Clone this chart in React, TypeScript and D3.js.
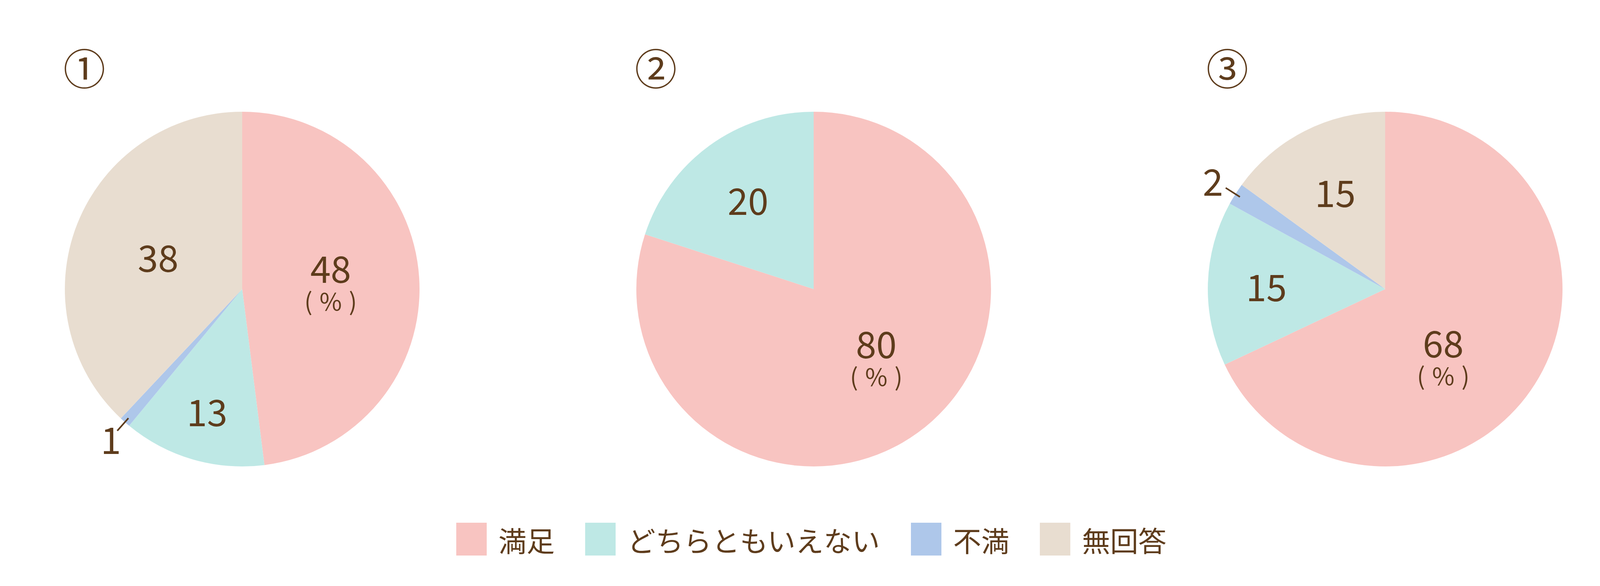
import React, {useEffect, useRef} from 'react';
import * as d3 from 'd3';

// categories and colours
const categories = ['満足', 'どちらともいえない', '不満', '無回答'];
const colors = ['#F8C4C1', '#BEE8E5', '#AEC7EA', '#E8DDD0'];

// one series per pie (%)
const titles = ['①', '②', '③'];
const pie1 = [48, 13, 1, 38];
const pie2 = [80, 20, 0, 0];
const pie3 = [68, 15, 2, 15];

// label placement: radius as fraction of pie radius, optional angle (in % of circle)
const labelRadius1 = [0.5, 0.71, 1.12, 0.51];
const labelRadius2 = [0.53, 0.63, 0, 0];
const labelRadius3 = [0.51, 0.67, 1.15, 0.62];
const labelAngle1: (number | null)[] = [null, null, null, null];
const labelAngle2: (number | null)[] = [38.4, null, null, null];
const labelAngle3: (number | null)[] = [38.9, null, null, null];

const W = 4167;
const H = 1500;
const FONT = '"Noto Sans CJK JP", "Noto Sans", sans-serif';
const TEXT = '#5E3C1C';

const App: React.FC = () => {
  const svgRef = useRef<SVGSVGElement>(null);

  useEffect(() => {
    if (!svgRef.current) return;
    const svg = d3.select(svgRef.current);
    svg.selectAll('*').remove();

    const series = [pie1, pie2, pie3];
    const radii = [labelRadius1, labelRadius2, labelRadius3];
    const angles = [labelAngle1, labelAngle2, labelAngle3];

    const R = 454;
    const cy = 740;
    const cx = d3.scalePoint<number>().domain([0, 1, 2]).range([620, 3546]);

    const pie = d3
      .pie<number>()
      .sort(null)
      .value((d) => d);
    const arc = d3.arc<d3.PieArcDatum<number>>().innerRadius(0).outerRadius(R);
    const toAngle = d3.scaleLinear().domain([0, 100]).range([0, 2 * Math.PI]);

    const label = (
      g: d3.Selection<SVGGElement, unknown, null, undefined>,
      x: number,
      y: number,
      size: number,
      txt: string,
    ) =>
      g
        .append('text')
        .attr('x', x)
        .attr('y', y)
        .attr('text-anchor', 'middle')
        .attr('dominant-baseline', 'central')
        .style('font-family', FONT)
        .style('font-size', `${size}px`)
        .attr('fill', TEXT)
        .text(txt);

    series.forEach((values, i) => {
      const g = svg
        .append('g')
        .attr('transform', `translate(${cx(i)},${cy})`);

      const arcs = pie(values);

      g.selectAll('path')
        .data(arcs.filter((d) => d.value > 0))
        .join('path')
        .attr('d', arc)
        .attr('fill', (d) => colors[d.index]);

      // title
      label(g, -404, -570, 108, titles[i]);

      arcs.forEach((d) => {
        if (d.value <= 0) return;
        const mid = (d.startAngle + d.endAngle) / 2;
        const a = angles[i][d.index] != null ? toAngle(angles[i][d.index]!) : mid;
        const r = radii[i][d.index] * R;
        const x = r * Math.sin(a);
        const y = -r * Math.cos(a);
        const outside = radii[i][d.index] > 1;
        const main = d.index === 0;

        if (outside) {
          // leader line
          const r0 = R * 0.97;
          const r1 = R * 1.065;
          g.append('line')
            .attr('x1', r0 * Math.sin(mid))
            .attr('y1', -r0 * Math.cos(mid))
            .attr('x2', r1 * Math.sin(mid))
            .attr('y2', -r1 * Math.cos(mid))
            .attr('stroke', TEXT)
            .attr('stroke-width', 4);
        }

        label(g, x, main ? y - 43 : y, 94, String(d.value));

        if (main) {
          const t = label(g, x, y + 42, 62, '');
          t.append('tspan').text('(');
          t.append('tspan').attr('dx', 18).text('%');
          t.append('tspan').attr('dx', 18).text(')');
        }
      });
    });

    // legend
    const fs = 72;
    const box = 78;
    const legend = svg.append('g').attr('transform', `translate(1168,1380)`);
    let x = 0;
    categories.forEach((c, i) => {
      legend
        .append('rect')
        .attr('x', x)
        .attr('y', -42)
        .attr('width', box)
        .attr('height', 84)
        .attr('fill', colors[i]);
      legend
        .append('text')
        .attr('x', x + box + 30)
        .attr('y', 0)
        .attr('dominant-baseline', 'central')
        .style('font-family', FONT)
        .style('font-size', `${fs}px`)
        .attr('fill', TEXT)
        .text(c);
      x += box + 30 + c.length * fs + 78;
    });
  }, []);

  return (
    <svg
      ref={svgRef}
      width={W}
      height={H}
      style={{position: 'absolute', left: 0, top: 0, background: '#fff'}}
    />
  );
};

export default App;
